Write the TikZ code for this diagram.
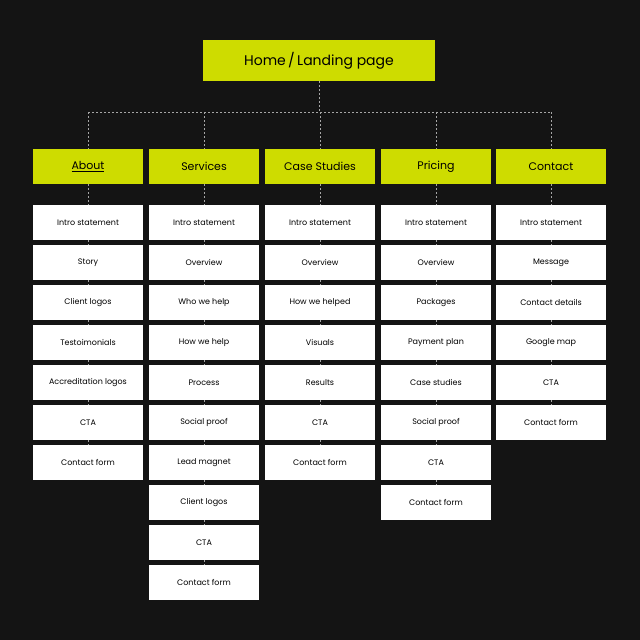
\documentclass[tikz,border=0pt]{standalone}
\usepackage{fontspec}
\setmainfont{Poppins}
\definecolor{lime}{HTML}{CEDC00}
\definecolor{bg}{HTML}{141414}
\begin{document}
\begin{tikzpicture}[x=1pt,y=-1pt,
  hdr/.style={fill=lime,minimum width=110pt,minimum height=35pt,inner sep=0pt,font=\fontsize{11}{13}\selectfont,text=black},
  item/.style={fill=white,minimum width=110pt,minimum height=35pt,inner sep=0pt,font=\fontsize{8}{10}\selectfont,text=black},
  conn/.style={draw=gray!70,dashed,dash pattern=on 2pt off 2pt,line width=0.5pt}]
\fill[bg] (0,0) rectangle (640,640);
\useasboundingbox (0,0) rectangle (640,640);
\node[fill=lime,minimum width=232pt,minimum height=41pt,inner sep=0pt,font=\fontsize{14}{16}\selectfont] (home) at (319,60.5) {Home\,/\,Landing page};
\coordinate (bus) at (319,112);
\def\xs{{88,204,320,436,551}}
\foreach \x/\n/\t/\items in {
 88/c1/{\underline{About}}/{Intro statement,Story,Client logos,Testoimonials,Accreditation logos,CTA,Contact form},
 204/c2/Services/{Intro statement,Overview,Who we help,How we help,Process,Social proof,Lead magnet,Client logos,CTA,Contact form},
 320/c3/Case Studies/{Intro statement,Overview,How we helped,Visuals,Results,CTA,Contact form},
 436/c4/Pricing/{Intro statement,Overview,Packages,Payment plan,Case studies,Social proof,CTA,Contact form},
 551/c5/Contact/{Intro statement,Message,Contact details,Google map,CTA,Contact form}}{
  \node[hdr] (\n) at (\x,166.5) {\t};
  \coordinate (\n top) at (\x,112);
  \draw[conn] (\n top) -- (\n.north);
  \foreach \it [count=\i] in \items {
    \node[item] (\n-\i) at (\x,{222.5+40*(\i-1)}) {\it};
    \xdef\last{\i}
  }
  \begin{scope}[on background layer/.try]\end{scope}
  \draw[conn] (\n.south) -- (\n-1.north);
  \foreach \i [remember=\i as \j (initially 1)] in {2,...,\last} {
    \draw[conn] (\n-\j.south) -- (\n-\i.north);
  }
}
\draw[conn] (home.south) -- (bus);
\draw[conn] (c1top) -- (c5top);
\end{tikzpicture}
\end{document}
